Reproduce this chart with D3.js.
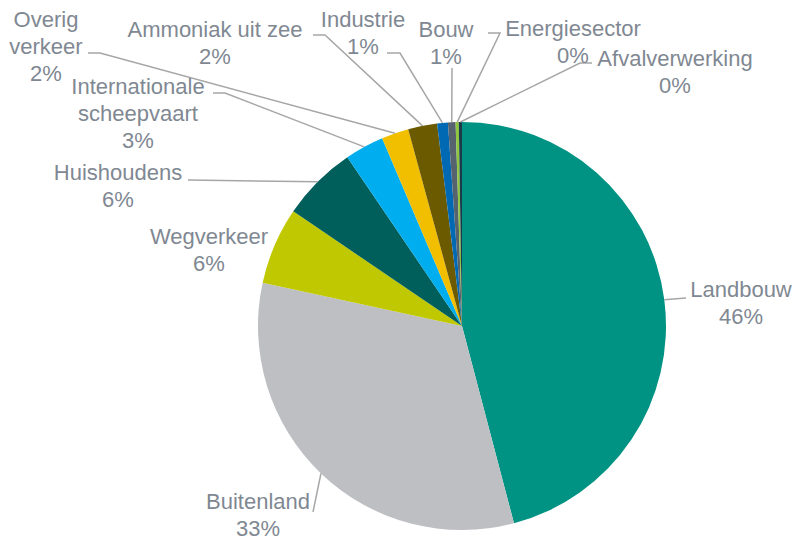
<!DOCTYPE html>
<html>
<head>
<meta charset="utf-8">
<script src="https://cdn.jsdelivr.net/npm/d3@7"></script>
<style>
  body { margin: 0; background: #fff; }
  text { font-family: "Liberation Sans", Arial, sans-serif; }
</style>
</head>
<body>
<script>
var sectors = ['Landbouw', 'Buitenland', 'Wegverkeer', 'Huishoudens', 'Internationale scheepvaart',
               'Overig verkeer', 'Ammoniak uit zee', 'Industrie', 'Bouw', 'Energiesector', 'Afvalverwerking'];
var shares = [45.9, 32.5, 6.1, 6.0, 3.1, 2.15, 2.3, 0.85, 0.6, 0.25, 0.25];
var colors = ['#009384', '#bdbfc3', '#bfc800', '#005f5a', '#00aeef',
              '#f2bf00', '#6b5a00', '#0069b4', '#56636e', '#8dc63f', '#1b3a4a'];

// label layout: text lines, centre x, first baseline, leader points (after the slice edge)
var labelLayout = [
  {lines: ['Landbouw'], x: 741, y: 297, pts: [[686, 298]]},
  {lines: ['Buitenland'], x: 258, y: 509, pts: [[313, 512]]},
  {lines: ['Wegverkeer'], x: 209, y: 244, pts: []},
  {lines: ['Huishoudens'], x: 118, y: 180, pts: [[188, 180]]},
  {lines: ['Internationale', 'scheepvaart'], x: 138, y: 94, pts: [[225, 93], [213, 93]]},
  {lines: ['Overig', 'verkeer'], x: 46, y: 27, pts: [[100, 53], [88, 53]]},
  {lines: ['Ammoniak uit zee'], x: 215, y: 37, pts: [[325, 35], [313, 35]]},
  {lines: ['Industrie'], x: 363, y: 27, pts: [[400, 53], [387, 53]]},
  {lines: ['Bouw'], x: 446, y: 37, pts: [[452, 68]]},
  {lines: ['Energiesector'], x: 573, y: 36, pts: [[500, 33], [488, 33]]},
  {lines: ['Afvalverwerking'], x: 675, y: 66, pts: [[580, 63], [592, 63]]}
];

var width = 796, height = 541;
var cx = 462, cy = 326, radius = 204;
var lineH = 27;

var svg = d3.select('body').append('svg')
    .attr('width', width)
    .attr('height', height);

var data = sectors.map(function(s, i) { return {name: s, value: shares[i], color: colors[i], layout: labelLayout[i]}; });

var pie = d3.pie().sort(null).value(function(d) { return d.value; });
var arc = d3.arc().innerRadius(0).outerRadius(radius);

var g = svg.append('g').attr('transform', 'translate(' + cx + ',' + cy + ')');

var arcs = pie(data);

g.selectAll('path.slice')
  .data(arcs)
  .enter().append('path')
    .attr('class', 'slice')
    .attr('d', arc)
    .attr('fill', function(d) { return d.data.color; });

// leader lines
svg.selectAll('polyline.leader')
  .data(arcs.filter(function(d) { return d.data.layout.pts.length; }))
  .enter().append('polyline')
    .attr('class', 'leader')
    .attr('fill', 'none')
    .attr('stroke', '#a6a6a6')
    .attr('stroke-width', 1.5)
    .attr('points', function(d) {
      var a = (d.startAngle + d.endAngle) / 2;
      var p0 = [cx + radius * Math.sin(a), cy - radius * Math.cos(a)];
      return [p0].concat(d.data.layout.pts).map(function(p) { return p.join(','); }).join(' ');
    });

// labels
var labels = svg.selectAll('text.lbl')
  .data(arcs)
  .enter().append('text')
    .attr('class', 'lbl')
    .attr('text-anchor', 'middle')
    .attr('font-size', 22)
    .attr('fill', '#7f8892');

labels.each(function(d) {
  var t = d3.select(this), L = d.data.layout;
  var lines = L.lines.concat([Math.round(d.data.value) + '%']);
  lines.forEach(function(s, i) {
    t.append('tspan')
      .attr('x', L.x)
      .attr('y', L.y + i * lineH)
      .text(s);
  });
});
</script>
</body>
</html>
